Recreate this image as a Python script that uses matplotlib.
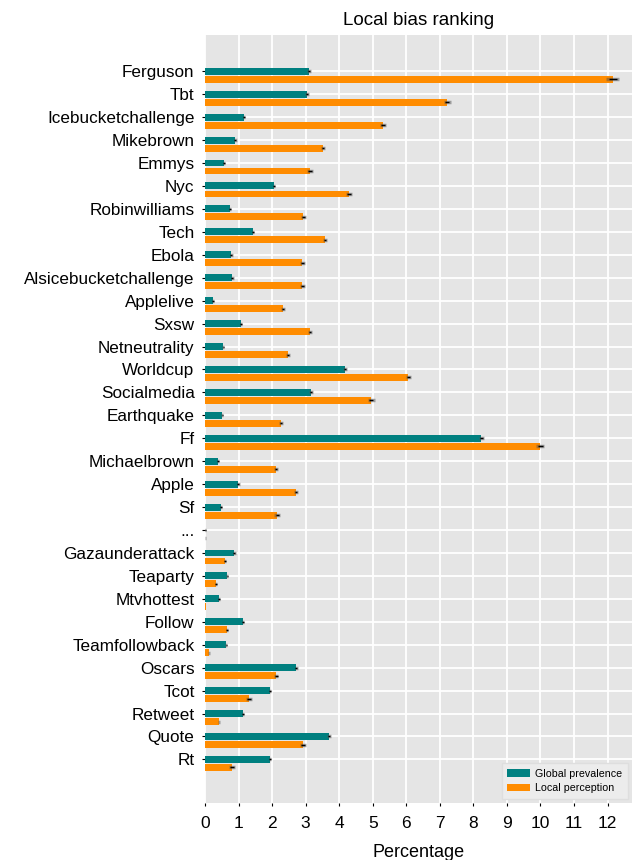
import numpy as np
import matplotlib
matplotlib.use('Agg')
import matplotlib.pyplot as plt

plt.rcParams['font.family'] = ['Liberation Sans', 'DejaVu Sans']

# Data (percent)
tags = ['Ferguson', 'Tbt', 'Icebucketchallenge', 'Mikebrown', 'Emmys', 'Nyc',
        'Robinwilliams', 'Tech', 'Ebola', 'Alsicebucketchallenge', 'Applelive',
        'Sxsw', 'Netneutrality', 'Worldcup', 'Socialmedia', 'Earthquake', 'Ff',
        'Michaelbrown', 'Apple', 'Sf', '...', 'Gazaunderattack', 'Teaparty',
        'Mtvhottest', 'Follow', 'Teamfollowback', 'Oscars', 'Tcot', 'Retweet',
        'Quote', 'Rt']
global_prev = [3.10, 3.04, 1.16, 0.90, 0.57, 2.06, 0.75, 1.43, 0.78, 0.81, 0.24,
               1.07, 0.54, 4.18, 3.16, 0.51, 8.24, 0.39, 0.99, 0.48, 0.01, 0.87,
               0.66, 0.42, 1.13, 0.63, 2.72, 1.94, 1.13, 3.70, 1.94]
local_perc = [12.15, 7.22, 5.31, 3.52, 3.13, 4.30, 2.93, 3.58, 2.90, 2.90, 2.33,
              3.13, 2.48, 6.06, 4.96, 2.27, 10.00, 2.12, 2.72, 2.15, 0.005, 0.60,
              0.33, 0.03, 0.66, 0.12, 2.12, 1.31, 0.42, 2.93, 0.81]
global_err = [0.05, 0.05, 0.04, 0.04, 0.04, 0.04, 0.04, 0.04, 0.04, 0.04, 0.03,
              0.04, 0.03, 0.06, 0.06, 0.03, 0.08, 0.03, 0.04, 0.03, 0.01, 0.04,
              0.03, 0.03, 0.04, 0.03, 0.05, 0.04, 0.04, 0.06, 0.04]
local_err = [0.20, 0.10, 0.10, 0.07, 0.08, 0.09, 0.07, 0.07, 0.07, 0.07, 0.06,
             0.07, 0.06, 0.08, 0.10, 0.06, 0.12, 0.06, 0.06, 0.08, 0.01, 0.04,
             0.03, 0.01, 0.04, 0.02, 0.07, 0.08, 0.02, 0.09, 0.09]

TEAL = '#008080'
ORANGE = '#ff8c00'

fig = plt.figure(figsize=(6.32, 8.6), dpi=100)
ax = fig.add_axes([205 / 632, 1 - 803 / 860, 1 - 205 / 632, (803 - 35) / 860])
ax.set_facecolor('#e5e5e5')

y = np.arange(len(tags))
h = 0.3
off = 0.35
ax.barh(y, global_prev, height=h, color=TEAL, label='Global prevalence', zorder=2)
ax.barh(y + off, local_perc, height=h, color=ORANGE, label='Local perception', zorder=2)

# error bars: soft gray halo plus thin black core
for vals, errs, yy in [(global_prev, global_err, y), (local_perc, local_err, y + off)]:
    ax.errorbar(vals, yy, xerr=errs, fmt='none', ecolor='#555555', alpha=0.5,
                elinewidth=2.5, capsize=0, zorder=3)
    ax.errorbar(vals, yy, xerr=np.array(errs) * 0.6, fmt='none', ecolor='black',
                elinewidth=1.0, capsize=0, zorder=4)

ax.set_xlim(0, 12.73)
ax.set_ylim(len(tags) - 1 + 1.90, -1.58)
ax.set_xticks(range(0, 13))
ax.set_yticks(y)
ax.set_yticklabels(tags)
ax.grid(True, color='white', linewidth=1.3, zorder=0)
ax.set_axisbelow(True)
for s in ax.spines.values():
    s.set_visible(False)
ax.tick_params(axis='y', length=2.5, width=0.8, pad=5, labelsize=12.3, colors='black')
ax.tick_params(axis='x', length=2.5, width=0.8, pad=7, labelsize=12.5, colors='black')

ax.set_title('Local bias ranking', fontsize=13.5, pad=7)
ax.set_xlabel('Percentage', fontsize=13, labelpad=9)

leg = ax.legend(loc='lower right', fontsize=7.7, frameon=True, fancybox=False,
                facecolor='#ececec', edgecolor='#dedede', framealpha=1,
                handlelength=2.1, handleheight=0.7, borderaxespad=0.4,
                labelspacing=0.45, handletextpad=0.5, borderpad=0.5)

fig.savefig('out.png', dpi=100)
